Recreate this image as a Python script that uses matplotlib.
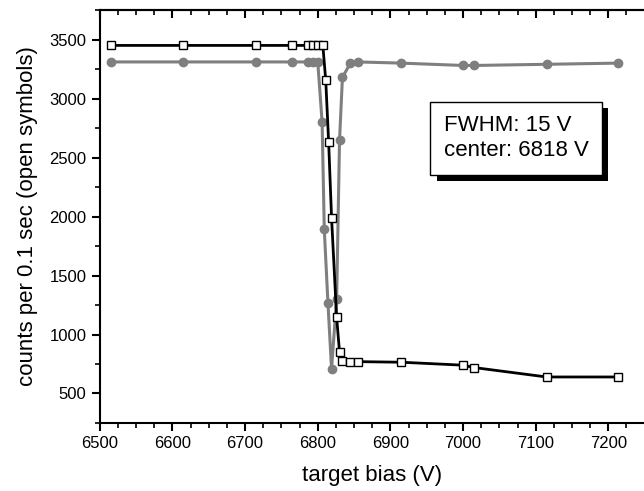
import matplotlib
matplotlib.use("Agg")
import matplotlib.pyplot as plt
import matplotlib.patheffects as pe
from matplotlib.ticker import MultipleLocator

plt.rcParams["font.family"] = ["Liberation Sans", "DejaVu Sans"]

# open symbols (black line)
sq_bias = [6516, 6615, 6715, 6765, 6786, 6793, 6800, 6807, 6811, 6815, 6819,
           6826, 6830, 6834, 6845, 6855, 6915, 7000, 7015, 7115, 7214]
sq_counts = [3450, 3450, 3450, 3450, 3450, 3450, 3450, 3450, 3155, 2630, 1990,
             1145, 850, 775, 770, 770, 765, 740, 720, 640, 640]

# filled symbols (grey line)
ci_bias = [6516, 6615, 6715, 6765, 6786, 6793, 6800, 6806, 6809, 6814, 6819,
           6826, 6830, 6834, 6845, 6855, 6915, 7000, 7015, 7115, 7214]
ci_counts = [3310, 3310, 3310, 3310, 3310, 3310, 3310, 2800, 1890, 1270, 710,
             1300, 2650, 3180, 3300, 3310, 3300, 3280, 3280, 3290, 3300]

annot = "FWHM: 15 V\ncenter: 6818 V"

fig = plt.figure(figsize=(6.44, 4.91), dpi=100)
ax = fig.add_axes([0.155, 0.1385, 0.846, 0.8411])

ax.plot(ci_bias, ci_counts, "-o", color="#7f7f7f", lw=2.2, ms=6,
        mfc="#7f7f7f", mec="#7f7f7f", zorder=2)
ax.plot(sq_bias, sq_counts, "-s", color="black", lw=2.0, ms=5.5,
        mfc="white", mec="black", mew=1.0, zorder=3)

ax.set_xlim(6500, 7250)
ax.set_ylim(250, 3750)
ax.xaxis.set_major_locator(MultipleLocator(100))
ax.xaxis.set_minor_locator(MultipleLocator(25))
ax.yaxis.set_minor_locator(MultipleLocator(250))
ax.set_yticks(range(500, 3501, 500))

ax.tick_params(axis="both", which="both", direction="out", top=False,
               right=False, labelsize=12)
ax.tick_params(which="major", length=6, width=1.5)
ax.tick_params(which="minor", length=3.5, width=1.2)
for s in ax.spines.values():
    s.set_linewidth(1.5)
ax.spines["right"].set_visible(False)

# top axis: ticks pointing inward, no labels
top = ax.secondary_xaxis("top")
top.xaxis.set_major_locator(MultipleLocator(100))
top.xaxis.set_minor_locator(MultipleLocator(25))
top.tick_params(which="both", direction="in", labeltop=False)
top.tick_params(which="major", length=6, width=1.5)
top.tick_params(which="minor", length=3.5, width=1.2)
top.spines["top"].set_linewidth(1.5)

ax.set_xlabel("target bias (V)", fontsize=16, labelpad=10)
ax.set_ylabel("counts per 0.1 sec (open symbols)", fontsize=16, labelpad=8)

t = ax.text(0.764, 0.689, annot, transform=ax.transAxes, fontsize=16,
            ha="center", va="center", multialignment="left", linespacing=1.25,
            bbox=dict(boxstyle="square,pad=0.6", fc="white", ec="black", lw=1.0),
            zorder=5)
t.get_bbox_patch().set_path_effects([
    pe.SimplePatchShadow(offset=(4.5, -4.5), shadow_rgbFace="black", alpha=1.0),
    pe.Normal()])

fig.savefig("out.png", dpi=100)
